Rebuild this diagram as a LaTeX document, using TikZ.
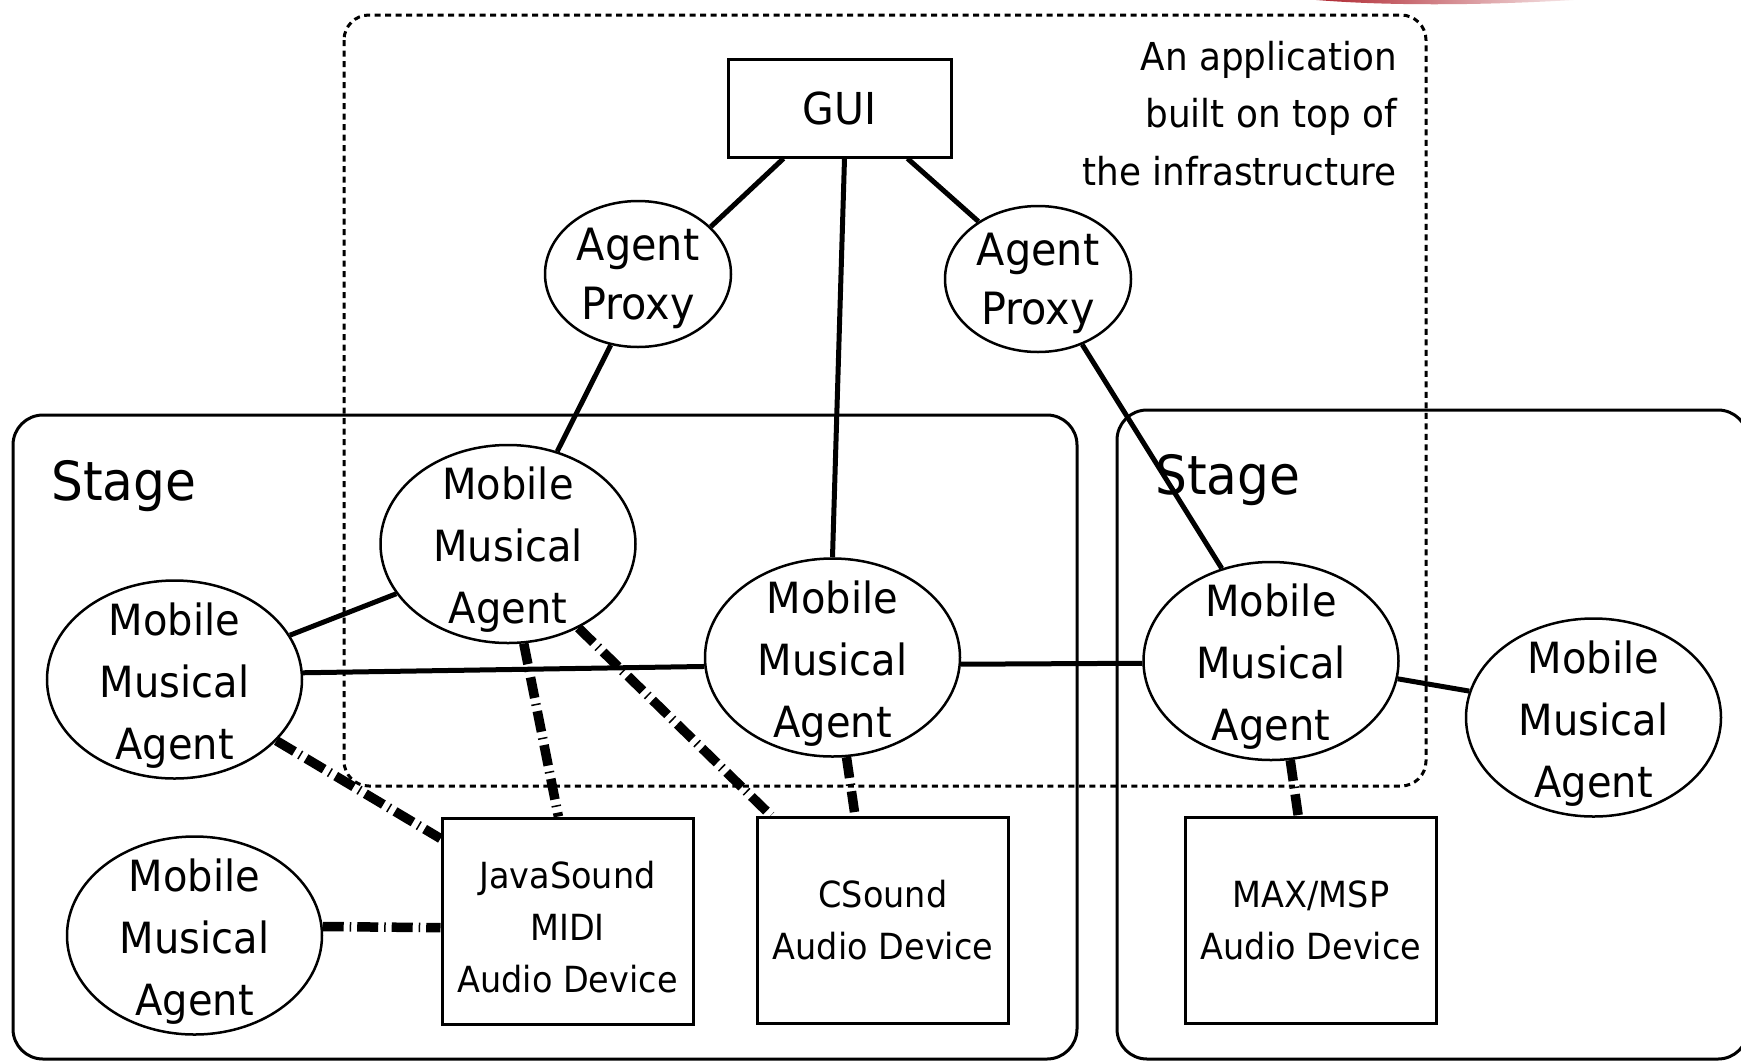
\documentclass[tikz,border=0pt]{standalone}
\usepackage{fontspec}
\setmainfont{DejaVu Sans}[FakeStretch=0.93]
\usetikzlibrary{shapes.geometric,calc}
\definecolor{swoosh}{RGB}{172,30,40}
\pgfdeclarelayer{bg}
\pgfsetlayers{bg,main}
\begin{document}
\begin{tikzpicture}[x=1pt,y=-1pt,
  mma/.style={ellipse,draw,line width=2.5pt,minimum width=255pt,minimum height=198pt,inner sep=0pt,fill=white,
    label={[mmatext]center:{Mobile\\Musical\\Agent}}},
  mmatext/.style={align=center,font=\fontsize{43}{62}\selectfont,yshift=-6pt},
  proxy/.style={ellipse,draw,line width=2.5pt,minimum width=186pt,minimum height=146pt,inner sep=0pt,fill=white,
    label={[proxytext]center:{Agent\\Proxy}}},
  proxytext/.style={align=center,font=\fontsize{44.5}{59}\selectfont,yshift=-4pt},
  device/.style n args={2}{rectangle,draw,line width=3pt,minimum width=251pt,minimum height=206pt,inner sep=0pt,fill=white,
    label={[devtext,yshift=#2]center:{#1}}},
  devtext/.style={align=center,font=\fontsize{36}{52}\selectfont},
  link/.style={line width=5pt},
  audio/.style={line width=9.5pt,dash pattern=on 21pt off 6pt on 1.5pt off 6pt},
  stagebox/.style={line width=3pt,rounded corners=30pt},
  appbox/.style={line width=3pt,dash pattern=on 6pt off 4.5pt,rounded corners=25pt},
  stagelabel/.style={font=\fontsize{54}{60}\selectfont,anchor=base west,inner sep=0pt},
]
\useasboundingbox (0,0) rectangle (1741,1061);

% nodes
\node[draw,line width=3pt,minimum width=223pt,minimum height=98pt,inner sep=0pt,
  font=\fontsize{44}{50}\selectfont,fill=white] (gui) at (839.5,108) {GUI};
\node[proxy] (pl) at (638,274) {};
\node[proxy] (pr) at (1038,279) {};

\node[mma] (m1) at (508,544) {};
\node[mma] (m2) at (174.5,679.5) {};
\node[mma] (m3) at (832.5,657.5) {};
\node[mma] (m4) at (1271,661) {};
\node[mma] (m5) at (1593.5,717.5) {};
\node[mma] (m6) at (194.5,935.5) {};

\node[device={JavaSound\\MIDI\\Audio Device}{-6pt}] (js) at (567.5,921) {};
\node[device={CSound\\Audio Device}{0pt}] (cs) at (883,920) {};
\node[device={MAX/MSP\\Audio Device}{0pt}] (max) at (1311,920) {};

\node[stagelabel] (stage1) at (51,500) {Stage};
\node[stagelabel] (stage2) at (1155,494) {Stage};

\node[anchor=north east,align=right,inner sep=0pt,font=\fontsize{38.5}{57.5}\selectfont]
  (apptext) at (1397,41) {An application\\built on top of\\the infrastructure};

\begin{pgfonlayer}{bg}
  \fill[white] (0,0) rectangle (1741,1061);
  % red swoosh at the top
  \shade[left color=swoosh,middle color=swoosh,right color=swoosh!5]
    (1305,-1) .. controls (1380,6) and (1480,6) .. (1590,-1) -- cycle;

  \draw[stagebox] (13,415) rectangle (1077,1059);
  \draw[stagebox] (1117,410) rectangle (1748,1059);
  \draw[appbox] (344,15) rectangle (1426,786);

  \draw[link] ($(gui.south)+(-56,0)$) -- (pl.33);
  \draw[link] ($(gui.south)+(68,0)$) -- (pr.136);
  \draw[link] ($(gui.south)+(5,0)$) -- (m3.north);
  \draw[link] (pl.249) -- (m1.62);
  \draw[link] (pr.304) -- (m4.118);
  \draw[link] (m1.204) -- (m2.21);
  \draw[link] (m2.3) -- (m3.184);
  \draw[link] (m3.357) -- (m4.181);
  \draw[link] (m4.352) -- (m5.168);

  \draw[audio] (m2.329) -- (js.147);
  \draw[audio] (m1.279) -- (js.95);
  \draw[audio] (m1.310) -- (cs.137);
  \draw[audio] (m3.278) -- (cs.105);
  \draw[audio] (m4.281) -- (max.97);
  \draw[audio] (m6.4) -- (js.183);
\end{pgfonlayer}
\end{tikzpicture}
\end{document}
